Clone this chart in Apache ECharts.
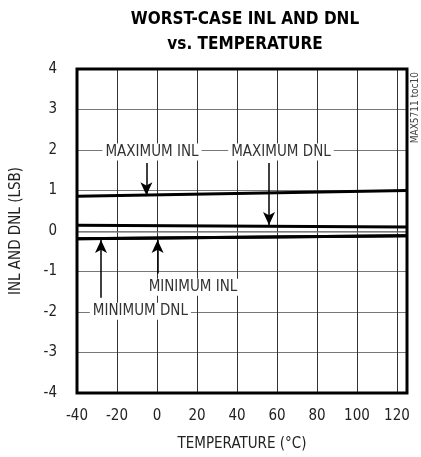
<!DOCTYPE html>
<html><head><meta charset="utf-8">
<script src="https://cdn.jsdelivr.net/npm/echarts@6/dist/echarts.min.js"></script>
<style>html,body{margin:0;padding:0;background:#fff}#c{width:421px;height:457px}</style>
</head><body><div id="c"></div>
<script>
var FONT = "'Liberation Sans Narrow','DejaVu Sans Condensed','Liberation Sans',sans-serif";
var temps = [-40, 125];
var maxINL = [0.86, 1.0];
var maxDNL = [0.14, 0.10];
var minDNL = [-0.19, -0.12];
var minINL = [-0.19, -0.12];
var faintTrace = [-0.03, -0.03];
var xTicks = [-40, -20, 0, 20, 40, 60, 80, 100, 120];
var yTicks = [-4, -3, -2, -1, 0, 1, 2, 3, 4];
var labels = [
  {name: 'MAXIMUM INL', x: -2.5, y: 1.95},
  {name: 'MAXIMUM DNL', x: 62, y: 1.95},
  {name: 'MINIMUM INL', x: 18, y: -1.39},
  {name: 'MINIMUM DNL', x: -8.3, y: -1.98}
];
var arrows = [
  {x: -5.3, from: 1.68, to: 0.88},
  {x: 56, from: 1.68, to: 0.15},
  {x: -28, from: -1.65, to: -0.22},
  {x: 0.3, from: -1.05, to: -0.22}
];
function pairs(v){ return temps.map(function(t,i){return [t, v[i]];}); }
function lineSeries(v, w, c){
  return {type:'line', data: pairs(v), symbol:'none', silent:true,
    lineStyle:{color:c||'#000', width:w}, z:3};
}
var chart = echarts.init(document.getElementById('c'));
chart.setOption({
  animation:false,
  title:{text:'WORST-CASE INL AND DNL\nvs. TEMPERATURE', left:240, textAlign:'center', top:2,
    textStyle:{fontFamily:FONT, fontWeight:'bold', fontSize:17, lineHeight:25, color:'#000'}},
  grid:{left:77, right:14, top:69, bottom:61, show:true, borderColor:'#000', borderWidth:3, z:5},
  xAxis:{type:'value', min:-40, max:125, interval:20,
    axisLine:{show:false}, axisTick:{show:false},
    splitLine:{show:true, lineStyle:{color:'#333', width:1}},
    axisLabel:{fontFamily:FONT, fontSize:15, color:'#222', margin:16, showMaxLabel:false,
      formatter:function(v){return xTicks.indexOf(v)>=0 ? String(v) : '';}},
    name:'TEMPERATURE (°C)', nameLocation:'middle', nameGap:44,
    nameTextStyle:{fontFamily:FONT, fontSize:15, color:'#222'}},
  yAxis:{type:'value', min:-4, max:4, interval:1,
    axisLine:{show:false}, axisTick:{show:false},
    splitLine:{show:true, lineStyle:{color:'#777', width:1}},
    axisLabel:{fontFamily:FONT, fontSize:15, color:'#222', margin:20,
      formatter:function(v){return yTicks.indexOf(v)>=0 ? String(v) : '';}},
    name:'INL AND DNL (LSB)', nameLocation:'middle', nameGap:53,
    nameTextStyle:{fontFamily:FONT, fontSize:15, color:'#222'}},
  graphic:[{type:'text', left:410, top:72, rotation:Math.PI/2,
    style:{text:'MAX5711 toc10', font:'10px '+FONT, fill:'#444'}}],
  series:[
    lineSeries(faintTrace, 1, '#888'),
    lineSeries(maxINL, 3),
    lineSeries(maxDNL, 3),
    lineSeries(minDNL, 3),
    lineSeries(minINL, 3),
    {type:'scatter', data:[], silent:true, z:6,
     markPoint:{symbol:'rect', symbolSize:1, itemStyle:{color:'rgba(0,0,0,0)'},
       label:{show:true, position:'inside', fontFamily:FONT, fontSize:15, color:'#333',
         backgroundColor:'#fff', padding:[1,3], formatter:'{b}'},
       data: labels.map(function(l){return {name:l.name, coord:[l.x, l.y]};})},
     markLine:{symbol:['none','arrow'], symbolSize:[9,13], silent:true, label:{show:false},
       lineStyle:{color:'#000', width:1.5, type:'solid'},
       data: arrows.map(function(a){return [{coord:[a.x, a.from]},{coord:[a.x, a.to]}];})}
    }
  ]
});
</script></body></html>
